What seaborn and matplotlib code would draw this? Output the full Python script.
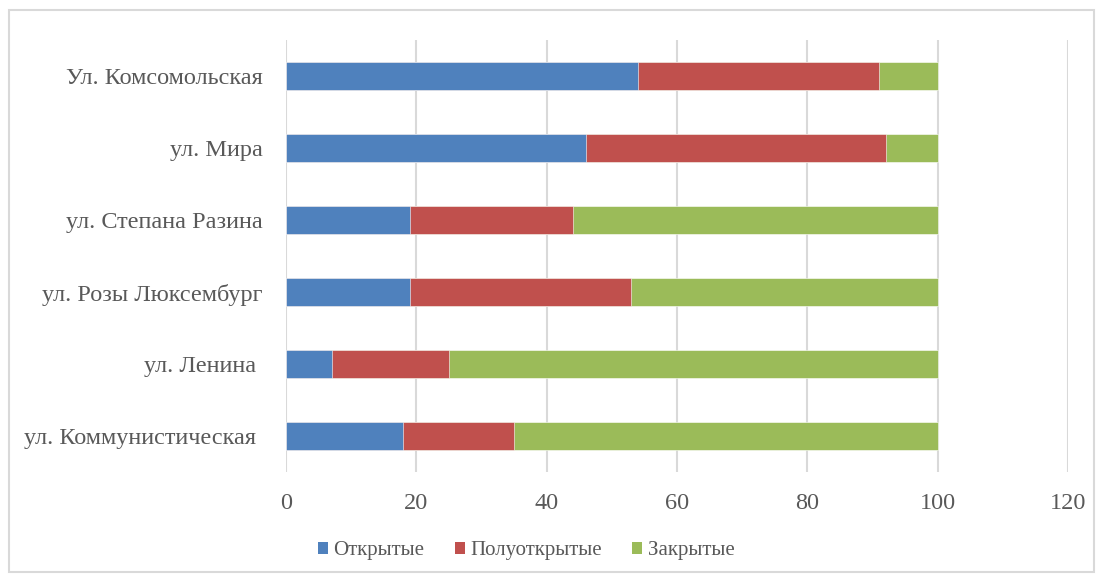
import pandas as pd
import seaborn as sns
import matplotlib.pyplot as plt
from matplotlib.patches import Rectangle, Patch

# data
streets = ['Ул. Комсомольская', 'ул. Мира', 'ул. Степана Разина',
           'ул. Розы Люксембург', 'ул. Ленина ', 'ул. Коммунистическая ']
open_ = [54, 46, 19, 19, 7, 18]
half_open = [37, 46, 25, 34, 18, 17]
closed = [9, 8, 56, 47, 75, 65]
series_names = ['Открытые', 'Полуоткрытые', 'Закрытые']
colors = ['#4F81BD', '#C0504D', '#9BBB59']
x_ticks = [0, 20, 40, 60, 80, 100, 120]

df = pd.DataFrame({'street': streets, 'Открытые': open_,
                   'Полуоткрытые': half_open, 'Закрытые': closed})
# cumulative sums so the layers can be overlaid (stacked bars)
cum = df[series_names].cumsum(axis=1)
cum['street'] = df['street']

sns.set_style('white')
plt.rcParams['font.family'] = ['Liberation Serif', 'DejaVu Serif']
text_color = '#595959'
fs = 17.5

fig = plt.figure(figsize=(11.03, 5.81), dpi=100)
ax = fig.add_axes([286 / 1103, 1 - 472 / 581, (1068 - 286) / 1103, (472 - 40) / 581])

# draw from the total down so each shorter layer sits on top
for name, col in reversed(list(zip(series_names, colors))):
    sns.barplot(data=cum, x=name, y='street', color=col, width=0.4,
                edgecolor='white', linewidth=0.4, saturation=1, ax=ax, zorder=3)

ax.set_xlim(0, 120)
ax.set_xticks(x_ticks)
ax.set_xlabel('')
ax.set_ylabel('')
ax.grid(axis='x', color='#D9D9D9', linewidth=1.5, zorder=0)
ax.grid(axis='y', visible=False)
for s in ax.spines.values():
    s.set_visible(False)
ax.tick_params(axis='both', length=0, labelsize=fs, labelcolor=text_color)
ax.tick_params(axis='x', pad=15)
ax.tick_params(axis='y', pad=17)

# legend below the plot
handles = [Patch(facecolor=c, edgecolor='none') for c in colors]
fig.legend(handles, series_names, loc='center', ncol=3,
           bbox_to_anchor=(526 / 1103, 1 - 551 / 581), frameon=False,
           fontsize=15, labelcolor=text_color, handlelength=0.5,
           handleheight=0.5, handletextpad=0.25, columnspacing=1.45)

# light outer frame of the chart area
fig.patches.append(Rectangle((9 / 1103, 1 - 572 / 581), 1085 / 1103, 562 / 581,
                             transform=fig.transFigure, fill=False,
                             edgecolor='#D9D9D9', linewidth=1.5))

fig.savefig('out.png', dpi=100)
